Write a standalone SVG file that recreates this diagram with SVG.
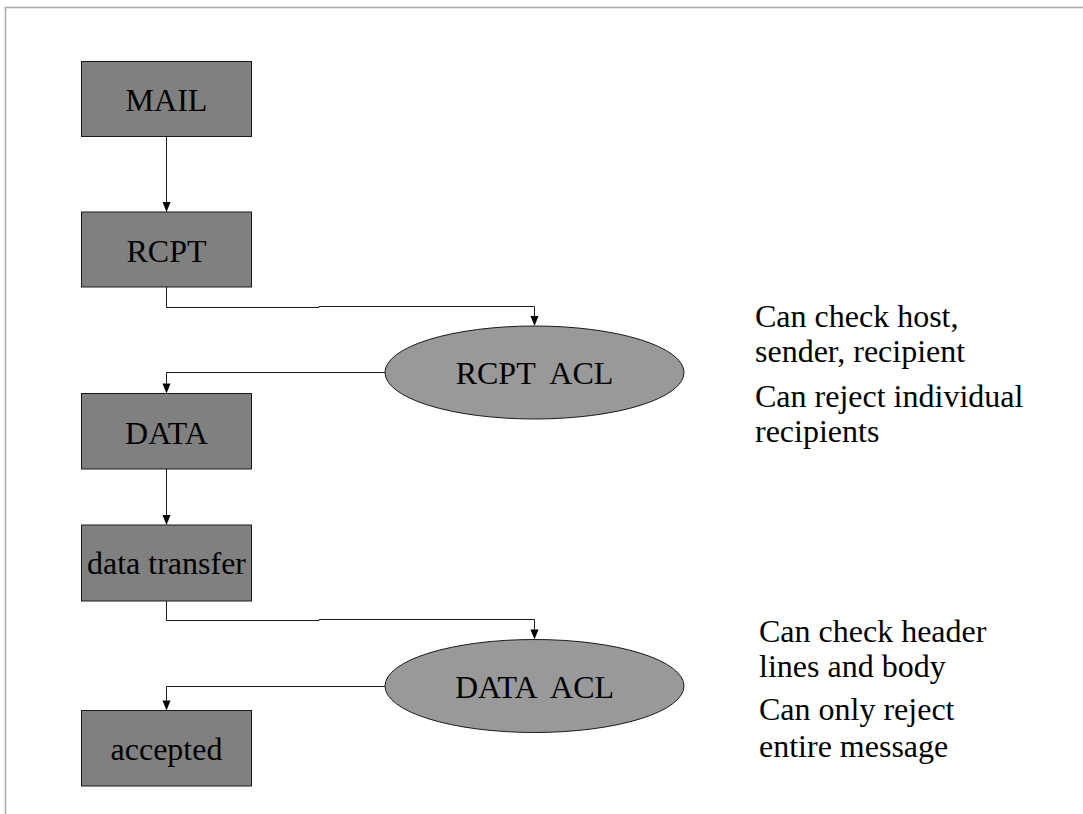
<svg xmlns="http://www.w3.org/2000/svg" width="1083" height="814" viewBox="0 0 1083 814">
<style>
.box{fill:#808080;stroke:#1a1a1a;stroke-width:1}
.ell{fill:#999999;stroke:#1a1a1a;stroke-width:1}
.lbl{font-family:"Liberation Serif","Times New Roman",serif;font-size:32px;fill:#000;text-anchor:middle}
.note{font-family:"Liberation Serif","Times New Roman",serif;font-size:32px;fill:#000}
.con{fill:none;stroke:#1a1a1a;stroke-width:1}
.frame{fill:none;stroke:#a8a8a8;stroke-width:1.5}
</style>
<defs>
<marker id="arr" markerUnits="userSpaceOnUse" markerWidth="10" markerHeight="12" refX="4" refY="10" orient="auto-start-reverse" viewBox="0 0 8 10">
<path d="M0,0 L8,0 L4,10 Z" fill="#000"/>
</marker>
</defs>
<rect width="1083" height="814" fill="#fff"/>
<path class="frame" d="M5.5,814 V7.5 H1083"/>
<g id="connectors">
<path class="con" d="M166.5,137 V212" marker-end="url(#arr)" style="marker-end:none"/>
<polygon points="162.5,202 170.5,202 166.5,212" fill="#000"/>
<path class="con" d="M166.5,287 V307.5 H319 V306.5 H534.5 V316"/>
<polygon points="530.5,316 538.5,316 534.5,326" fill="#000"/>
<path class="con" d="M385,372.5 H166.5 V383.5"/>
<polygon points="162.5,383.5 170.5,383.5 166.5,393.5" fill="#000"/>
<path class="con" d="M166.5,469 V515"/>
<polygon points="162.5,515 170.5,515 166.5,525" fill="#000"/>
<path class="con" d="M166.5,601 V620.5 H319 V619.5 H534.5 V629.5"/>
<polygon points="530.5,629.5 538.5,629.5 534.5,639.5" fill="#000"/>
<path class="con" d="M385,686.5 H166.5 V700.5"/>
<polygon points="162.5,700.5 170.5,700.5 166.5,710.5" fill="#000"/>
</g>
<g id="mail">
<rect class="box" x="81.5" y="61.5" width="170" height="75"/>
<text class="lbl" x="166.5" y="111">MAIL</text>
</g>
<g id="rcpt">
<rect class="box" x="81.5" y="212" width="170" height="75"/>
<text class="lbl" x="166.5" y="262">RCPT</text>
</g>
<g id="rcpt-acl">
<ellipse class="ell" cx="534.5" cy="372.5" rx="149.5" ry="46.5"/>
<text class="lbl" x="534.5" y="383.5" xml:space="preserve">RCPT  ACL</text>
</g>
<g id="data">
<rect class="box" x="81.5" y="393.5" width="170" height="75.5"/>
<text class="lbl" x="166.5" y="443.5">DATA</text>
</g>
<g id="data-transfer">
<rect class="box" x="81.5" y="525" width="170" height="76"/>
<text class="lbl" x="166.5" y="573.5">data transfer</text>
</g>
<g id="data-acl">
<ellipse class="ell" cx="534.5" cy="686" rx="149.5" ry="46.5"/>
<text class="lbl" x="534.5" y="697.5" xml:space="preserve">DATA  ACL</text>
</g>
<g id="accepted">
<rect class="box" x="81.5" y="710.5" width="170" height="75.5"/>
<text class="lbl" x="166.5" y="760">accepted</text>
</g>
<g id="notes">
<text class="note" x="755" y="327">Can check host,</text>
<text class="note" x="755" y="362">sender, recipient</text>
<text class="note" x="755" y="407">Can reject individual</text>
<text class="note" x="755" y="442">recipients</text>
<text class="note" x="759" y="642">Can check header</text>
<text class="note" x="759" y="677">lines and body</text>
<text class="note" x="759" y="720">Can only reject</text>
<text class="note" x="759" y="756.5">entire message</text>
</g>
</svg>
